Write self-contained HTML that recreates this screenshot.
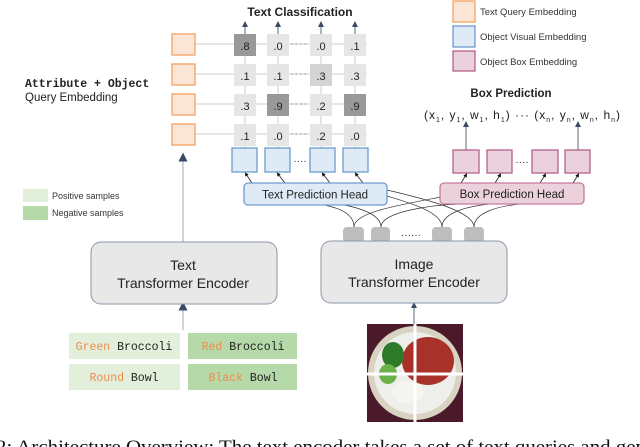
<!DOCTYPE html>
<html><head><style>
html,body{margin:0;padding:0;background:#fff;width:640px;height:447px;overflow:hidden}
text{font-family:"Liberation Sans",sans-serif}
.m{font-family:"Liberation Mono",monospace}
</style></head><body>
<svg width="640" height="447" viewBox="0 0 640 447" xmlns="http://www.w3.org/2000/svg">
<defs>
<marker id="a" markerWidth="6" markerHeight="6" refX="3" refY="3" orient="auto"><path d="M0,0 L6,3 L0,6 z" fill="#3a4a66"/></marker>
<marker id="k" markerWidth="5" markerHeight="5" refX="2.5" refY="2.5" orient="auto"><path d="M0,0 L5,2.5 L0,5 z" fill="#111"/></marker>
</defs>
<rect x="453" y="1" width="22" height="21" fill="#fbe5d6" stroke="#f4a261" stroke-width="1.3"/>
<rect x="453" y="26" width="22" height="21" fill="#deeaf6" stroke="#6e9bd0" stroke-width="1.3"/>
<rect x="453" y="51" width="22" height="20" fill="#ead1dc" stroke="#b5608a" stroke-width="1.3"/>
<text x="480" y="15" font-size="9.5" fill="#333">Text Query Embedding</text>
<text x="480" y="40" font-size="9.5" fill="#333">Object Visual Embedding</text>
<text x="480" y="65" font-size="9.5" fill="#333">Object Box Embedding</text>
<text x="300" y="16" font-size="12" font-weight="bold" text-anchor="middle" fill="#222">Text Classification</text>
<text x="25" y="87" font-size="11.5" font-weight="bold" class="m" fill="#222">Attribute + Object</text>
<text x="25" y="101" font-size="11.5" fill="#222">Query Embedding</text>
<g stroke="#ddd" stroke-width="1.5">
<line x1="195" y1="44" x2="367" y2="44"/><line x1="195" y1="74" x2="367" y2="74"/><line x1="195" y1="104" x2="367" y2="104"/><line x1="195" y1="134" x2="367" y2="134"/>
<line x1="245" y1="34" x2="245" y2="148"/><line x1="278" y1="34" x2="278" y2="148"/><line x1="321" y1="34" x2="321" y2="148"/><line x1="355" y1="34" x2="355" y2="148"/>
</g>
<g stroke="#5a6a80" stroke-width="1" marker-end="url(#a)">
<line x1="245" y1="34" x2="245" y2="24"/><line x1="278" y1="34" x2="278" y2="24"/><line x1="321" y1="34" x2="321" y2="24"/><line x1="355" y1="34" x2="355" y2="24"/>
<line x1="183" y1="242" x2="183" y2="157" stroke="#c0c4cc" stroke-width="1.5"/>
<line x1="414" y1="330" x2="414" y2="305"/>
<line x1="466" y1="150" x2="466" y2="124"/><line x1="578" y1="150" x2="578" y2="124"/>
<line x1="183" y1="330" x2="183" y2="306" stroke="#c0c4cc" stroke-width="1.5"/>
</g>
<g fill="#fbe5d6" stroke="#f4a261" stroke-width="1.3">
<rect x="172" y="34" width="23" height="21"/><rect x="172" y="64" width="23" height="21"/><rect x="172" y="94" width="23" height="21"/><rect x="172" y="124" width="23" height="21"/>
</g>
<g font-size="11" text-anchor="middle" fill="#222">
<rect x="234" y="34" width="22" height="22" fill="#999"/><text x="245" y="50">.8</text>
<rect x="267" y="34" width="22" height="22" fill="#e6e6e6"/><text x="278" y="50">.0</text>
<rect x="310" y="34" width="22" height="22" fill="#e6e6e6"/><text x="321" y="50">.0</text>
<rect x="344" y="34" width="22" height="22" fill="#e6e6e6"/><text x="355" y="50">.1</text>
<rect x="234" y="64" width="22" height="22" fill="#e6e6e6"/><text x="245" y="80">.1</text>
<rect x="267" y="64" width="22" height="22" fill="#e6e6e6"/><text x="278" y="80">.1</text>
<rect x="310" y="64" width="22" height="22" fill="#d4d4d4"/><text x="321" y="80">.3</text>
<rect x="344" y="64" width="22" height="22" fill="#e6e6e6"/><text x="355" y="80">.3</text>
<rect x="234" y="94" width="22" height="22" fill="#e6e6e6"/><text x="245" y="110">.3</text>
<rect x="267" y="94" width="22" height="22" fill="#999"/><text x="278" y="110">.9</text>
<rect x="310" y="94" width="22" height="22" fill="#e6e6e6"/><text x="321" y="110">.2</text>
<rect x="344" y="94" width="22" height="22" fill="#999"/><text x="355" y="110">.9</text>
<rect x="234" y="124" width="22" height="22" fill="#e6e6e6"/><text x="245" y="140">.1</text>
<rect x="267" y="124" width="22" height="22" fill="#e6e6e6"/><text x="278" y="140">.0</text>
<rect x="310" y="124" width="22" height="22" fill="#e6e6e6"/><text x="321" y="140">.2</text>
<rect x="344" y="124" width="22" height="22" fill="#e6e6e6"/><text x="355" y="140">.0</text>
</g>
<g stroke="#999" stroke-dasharray="1.5,3"><line x1="291" y1="44" x2="308" y2="44"/><line x1="291" y1="74" x2="308" y2="74"/><line x1="291" y1="104" x2="308" y2="104"/><line x1="291" y1="134" x2="308" y2="134"/></g>
<g fill="#deeaf6" stroke="#6e9bd0" stroke-width="1.3">
<rect x="232" y="148" width="25" height="24"/><rect x="265" y="148" width="25" height="24"/><rect x="310" y="148" width="25" height="24"/><rect x="343" y="148" width="25" height="24"/>
</g>
<text x="300" y="164" font-size="10" text-anchor="middle" fill="#222">····</text>
<g fill="#ead1dc" stroke="#b5608a" stroke-width="1.3">
<rect x="453" y="150" width="26" height="23"/><rect x="487" y="150" width="25" height="23"/><rect x="532" y="150" width="26" height="23"/><rect x="565" y="150" width="25" height="23"/>
</g>
<text x="522" y="165" font-size="10" text-anchor="middle" fill="#222">····</text>
<text x="511" y="97" font-size="11.5" font-weight="bold" text-anchor="middle" fill="#222">Box Prediction</text>
<text x="424" y="119" font-size="12" fill="#222" textLength="196" lengthAdjust="spacing">(x<tspan font-size="7" dy="3">1</tspan><tspan dy="-3">,  y</tspan><tspan font-size="7" dy="3">1</tspan><tspan dy="-3">,  w</tspan><tspan font-size="7" dy="3">1</tspan><tspan dy="-3">,  h</tspan><tspan font-size="7" dy="3">1</tspan><tspan dy="-3">)  ···  (x</tspan><tspan font-size="7" dy="3">n</tspan><tspan dy="-3">,  y</tspan><tspan font-size="7" dy="3">n</tspan><tspan dy="-3">,  w</tspan><tspan font-size="7" dy="3">n</tspan><tspan dy="-3">,  h</tspan><tspan font-size="7" dy="3">n</tspan><tspan dy="-3">)</tspan></text>
<g stroke="#222" stroke-width="0.8" marker-end="url(#k)">
<line x1="252" y1="183" x2="246" y2="174"/><line x1="285" y1="183" x2="278" y2="174"/><line x1="330" y1="183" x2="323" y2="174"/><line x1="363" y1="183" x2="356" y2="174"/>
<line x1="461" y1="183" x2="466" y2="175"/><line x1="495" y1="183" x2="500" y2="175"/><line x1="540" y1="183" x2="545" y2="175"/><line x1="573" y1="183" x2="578" y2="175"/>
</g>
<g fill="none" stroke="#333" stroke-width="0.7">
<path d="M354,227 C354,210 330,206 315,203"/><path d="M354,227 C354,212 400,205 446,196"/>
<path d="M381,227 C381,212 350,205 330,203"/><path d="M381,227 C381,212 430,205 460,204"/>
<path d="M442,227 C442,212 410,203 387,196"/><path d="M442,227 C442,212 470,206 490,204"/>
<path d="M474,227 C474,212 430,200 387,190"/><path d="M474,227 C474,212 500,206 520,204"/>
</g>
<rect x="244" y="183" width="143" height="22" rx="4" fill="#deeaf6" stroke="#6e9bd0" stroke-width="1.3"/>
<text x="315" y="198.5" font-size="11.5" text-anchor="middle" fill="#222">Text Prediction Head</text>
<rect x="440" y="183" width="144" height="21" rx="4" fill="#ead1dc" stroke="#c9799f" stroke-width="1.3"/>
<text x="512" y="198" font-size="11.5" text-anchor="middle" fill="#222">Box Prediction Head</text>
<g fill="#bdbdbd"><rect x="343" y="227" width="21" height="15" rx="4"/><rect x="371" y="227" width="19" height="15" rx="4"/><rect x="432" y="227" width="20" height="15" rx="4"/><rect x="464" y="227" width="20" height="15" rx="4"/></g>
<text x="411" y="238" font-size="10" text-anchor="middle" fill="#222">······</text>
<rect x="91" y="242" width="186" height="62" rx="10" fill="#e8e8e8" stroke="#8a96a8" stroke-width="1"/>
<text x="183" y="270" font-size="14" text-anchor="middle" fill="#222">Text</text>
<text x="183" y="288" font-size="14" text-anchor="middle" fill="#222">Transformer Encoder</text>
<rect x="321" y="241" width="186" height="62" rx="10" fill="#e8e8e8" stroke="#8a96a8" stroke-width="1"/>
<text x="414" y="269" font-size="14" text-anchor="middle" fill="#222">Image</text>
<text x="414" y="287" font-size="14" text-anchor="middle" fill="#222">Transformer Encoder</text>
<rect x="23" y="189" width="25" height="13" fill="#e2efda"/><rect x="23" y="206" width="25" height="14" fill="#b5d9a8"/>
<text x="52" y="199" font-size="9" fill="#333">Positive samples</text>
<text x="52" y="216" font-size="9" fill="#333">Negative samples</text>
<rect x="69" y="333" width="111" height="26" fill="#e2efda"/><rect x="188" y="333" width="109" height="26" fill="#b5d9a8"/>
<rect x="69" y="364" width="111" height="26" fill="#e2efda"/><rect x="188" y="364" width="109" height="26" fill="#b5d9a8"/>
<g class="m" font-size="11.5" text-anchor="middle">
<text x="124" y="350" class="m"><tspan fill="#f08a4b">Green</tspan><tspan fill="#222"> Broccoli</tspan></text>
<text x="243" y="350" class="m"><tspan fill="#f08a4b">Red</tspan><tspan fill="#222"> Broccoli</tspan></text>
<text x="124" y="381" class="m"><tspan fill="#f08a4b">Round</tspan><tspan fill="#222"> Bowl</tspan></text>
<text x="243" y="381" class="m"><tspan fill="#f08a4b">Black</tspan><tspan fill="#222"> Bowl</tspan></text>
</g>
<rect x="367" y="324" width="96" height="98" fill="#4a1a2a"/>
<circle cx="415" cy="373" r="47" fill="#d8d2c0"/>
<circle cx="415" cy="373" r="41" fill="#eeeeea"/>
<ellipse cx="428" cy="361" rx="26" ry="24" fill="#a8322a"/>
<ellipse cx="393" cy="355" rx="11" ry="13" fill="#2e7a2a"/>
<ellipse cx="388" cy="374" rx="9" ry="10" fill="#6cb04a"/>
<ellipse cx="408" cy="392" rx="16" ry="11" fill="#f5f5f0"/>
<line x1="415" y1="324" x2="415" y2="422" stroke="#fff" stroke-width="3"/>
<line x1="367" y1="374" x2="463" y2="374" stroke="#fff" stroke-width="3"/>
<text x="-4" y="453" font-size="19" fill="#111" textLength="650" lengthAdjust="spacingAndGlyphs" style="font-family:'Liberation Serif',serif">2:  Architecture Overview:  The text encoder takes a set of text queries and gen</text>
</svg>
</body></html>
